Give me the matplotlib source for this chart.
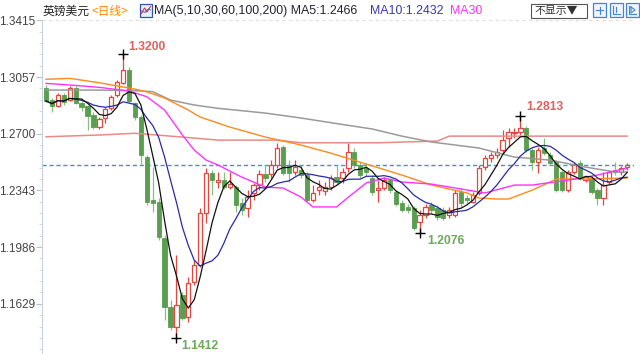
import numpy as np
import pandas as pd
import matplotlib
matplotlib.use("Agg")
import matplotlib.pyplot as plt
from matplotlib.patches import Rectangle
from matplotlib.lines import Line2D

# ---------------- data (GBP/USD daily) ----------------
opens = [1.2988, 1.2912, 1.2874, 1.2944, 1.2912, 1.2988, 1.2893, 1.2874, 1.2818, 1.2742,
         1.2799, 1.2862, 1.2944, 1.3019, 1.3101, 1.2893, 1.2805, 1.2553, 1.2282, 1.2270,
         1.2043, 1.1609, 1.1483, 1.1684, 1.1546, 1.1766, 1.1873, 1.2201, 1.2452, 1.2396,
         1.2408, 1.2364, 1.2364, 1.2264, 1.2232, 1.2327, 1.2377, 1.2446, 1.2446, 1.2503,
         1.2616, 1.2503, 1.2459, 1.2471, 1.2440, 1.2282, 1.2346, 1.2339, 1.2364, 1.2427,
         1.2421, 1.2484, 1.2585, 1.2503, 1.2484, 1.2421, 1.2346, 1.2358, 1.2408, 1.2333,
         1.2264, 1.2239, 1.2232, 1.2144, 1.2188, 1.2251, 1.2232, 1.2220, 1.2188, 1.2188,
         1.2333, 1.2295, 1.2270, 1.2327, 1.2490, 1.2547, 1.2566, 1.2597, 1.2673, 1.2704,
         1.2711, 1.2736, 1.2597, 1.2522, 1.2610, 1.2566, 1.2522, 1.2459, 1.2346, 1.2459,
         1.2515, 1.2408, 1.2421, 1.2346, 1.2295, 1.2396, 1.2471, 1.2459, 1.2490]
highs = [1.3007, 1.2925, 1.2956, 1.2956, 1.3000, 1.3000, 1.2906, 1.2881, 1.2837, 1.2805,
         1.2868, 1.2944, 1.3038, 1.3200, 1.3120, 1.2900, 1.2818, 1.2566, 1.2490, 1.2295,
         1.2062, 1.1653, 1.1936, 1.1703, 1.1798, 1.1905, 1.2232, 1.2484, 1.2471, 1.2459,
         1.2459, 1.2459, 1.2377, 1.2295, 1.2346, 1.2390, 1.2471, 1.2503, 1.2534, 1.2641,
         1.2629, 1.2534, 1.2534, 1.2503, 1.2459, 1.2377, 1.2408, 1.2396, 1.2440, 1.2503,
         1.2484, 1.2641, 1.2610, 1.2522, 1.2515, 1.2440, 1.2408, 1.2427, 1.2421, 1.2346,
         1.2282, 1.2257, 1.2245, 1.2220, 1.2257, 1.2270, 1.2251, 1.2239, 1.2239, 1.2346,
         1.2358, 1.2314, 1.2333, 1.2503, 1.2566, 1.2585, 1.2610, 1.2723, 1.2736, 1.2736,
         1.2813, 1.2749, 1.2610, 1.2616, 1.2673, 1.2585, 1.2534, 1.2471, 1.2471, 1.2522,
         1.2534, 1.2434, 1.2434, 1.2358, 1.2459, 1.2471, 1.2522, 1.2497, 1.2515]
lows = [1.2900, 1.2837, 1.2868, 1.2881, 1.2906, 1.2887, 1.2843, 1.2723, 1.2730, 1.2730,
        1.2767, 1.2849, 1.2931, 1.3013, 1.2893, 1.2786, 1.2503, 1.2251, 1.2207, 1.2030,
        1.1527, 1.1464, 1.1412, 1.1527, 1.1514, 1.1747, 1.1861, 1.2138, 1.2314, 1.2358,
        1.2352, 1.2352, 1.2207, 1.2188, 1.2176, 1.2282, 1.2346, 1.2396, 1.2421, 1.2484,
        1.2440, 1.2396, 1.2440, 1.2421, 1.2270, 1.2270, 1.2314, 1.2314, 1.2346, 1.2377,
        1.2390, 1.2459, 1.2484, 1.2421, 1.2434, 1.2314, 1.2270, 1.2346, 1.2327, 1.2245,
        1.2207, 1.2201, 1.2094, 1.2076, 1.2169, 1.2201, 1.2157, 1.2157, 1.2169, 1.2176,
        1.2239, 1.2264, 1.2264, 1.2314, 1.2471, 1.2522, 1.2547, 1.2578, 1.2616, 1.2673,
        1.2692, 1.2585, 1.2471, 1.2452, 1.2566, 1.2503, 1.2333, 1.2333, 1.2333, 1.2446,
        1.2408, 1.2396, 1.2320, 1.2251, 1.2251, 1.2383, 1.2440, 1.2440, 1.2471]
closes = [1.2906, 1.2874, 1.2944, 1.2900, 1.2988, 1.2893, 1.2868, 1.2812, 1.2742, 1.2793,
          1.2856, 1.2931, 1.3026, 1.3101, 1.2906, 1.2805, 1.2566, 1.2270, 1.2264, 1.2050,
          1.1609, 1.1483, 1.1621, 1.1539, 1.1760, 1.1873, 1.2201, 1.2452, 1.2408, 1.2408,
          1.2364, 1.2383, 1.2251, 1.2220, 1.2301, 1.2377, 1.2446, 1.2421, 1.2503, 1.2610,
          1.2452, 1.2452, 1.2490, 1.2440, 1.2282, 1.2327, 1.2364, 1.2364, 1.2421, 1.2396,
          1.2459, 1.2585, 1.2503, 1.2440, 1.2459, 1.2333, 1.2358, 1.2408, 1.2346, 1.2257,
          1.2220, 1.2220, 1.2106, 1.2188, 1.2239, 1.2220, 1.2176, 1.2169, 1.2220, 1.2327,
          1.2264, 1.2282, 1.2314, 1.2484, 1.2547, 1.2566, 1.2585, 1.2660, 1.2711, 1.2711,
          1.2736, 1.2597, 1.2522, 1.2597, 1.2578, 1.2515, 1.2346, 1.2346, 1.2459, 1.2503,
          1.2421, 1.2427, 1.2333, 1.2295, 1.2377, 1.2459, 1.2459, 1.2484, 1.2503]

# longer moving averages at selected bars
ma30_idx = [0, 4, 9, 14, 17, 20, 23, 25, 27, 29, 33, 37, 40, 43, 45, 49, 51, 54, 57, 60, 65, 71, 74, 79, 82, 88, 93, 98]
ma30_val = [1.3017, 1.3007, 1.2992, 1.2969, 1.2933, 1.2849, 1.2692, 1.2597, 1.2534, 1.2503,
            1.2427, 1.2364, 1.2358, 1.2301, 1.2239, 1.2239, 1.2301, 1.2390, 1.2421, 1.2396,
            1.2383, 1.2346, 1.2327, 1.2377, 1.2377, 1.2408, 1.2440, 1.2484]
ma60_idx = [0, 4, 9, 15, 17, 20, 24, 26, 31, 37, 43, 48, 54, 60, 65, 71, 73, 76, 78, 82, 85, 86, 91, 98]
ma60_val = [1.3043, 1.3049, 1.3021, 1.2981, 1.2964, 1.2925, 1.2849, 1.2805, 1.2742, 1.2679,
            1.2629, 1.2578, 1.2509, 1.2440, 1.2377, 1.2327, 1.2295, 1.2289, 1.2289, 1.2345,
            1.2396, 1.2415, 1.2415, 1.2421]
ma100_idx = [0, 9, 15, 18, 21, 25, 29, 32, 37, 43, 49, 55, 60, 65, 73, 79, 85, 91, 96, 98]
ma100_val = [1.2975, 1.2975, 1.2971, 1.2965, 1.2912, 1.2881, 1.2860, 1.2849, 1.2830, 1.2799,
             1.2764, 1.2730, 1.2685, 1.2648, 1.2610, 1.2553, 1.2534, 1.2490, 1.2459, 1.2459]
ma200_idx = [0, 9, 15, 23, 29, 39, 43, 56, 66, 68, 98]
ma200_val = [1.2681, 1.2692, 1.2703, 1.2679, 1.2660, 1.2660, 1.2643, 1.2643, 1.2654, 1.2685, 1.2685]

y_ticks = [1.1629, 1.1986, 1.2343, 1.2700, 1.3057, 1.3415]
title_name = "英镑美元"
title_period = "<日线>"
ma_label = "MA(5,10,30,60,100,200)"
ma5_label = "MA5:1.2466"
ma10_label = "MA10:1.2432"
ma30_label = "MA30"

# ---------------- figure ----------------
W, H = 640, 354
fig = plt.figure(figsize=(W / 100, H / 100), dpi=100)
fig.patch.set_facecolor("white")

def fx(px):
    return px / W

def fy(py):
    return 1 - py / H

ax_left, ax_right, ax_top, ax_bot = 42, 634, 20.2, 354
ax = fig.add_axes([fx(ax_left), fy(ax_bot), (ax_right - ax_left) / W, (ax_bot - ax_top) / H])
ax.set_facecolor("white")

n = len(closes)
x = np.arange(n)
o = np.array(opens); c = np.array(closes); h = np.array(highs); l = np.array(lows)
up = c >= o

RED = "#e5453f"
GREEN = "#5a9e50"
GREEN_WICK = "#86c07c"

# wicks
ax.vlines(x[up], l[up], h[up], color=RED, lw=0.9, zorder=2)
ax.vlines(x[~up], l[~up], h[~up], color=GREEN_WICK, lw=0.9, zorder=2)
# bodies
bw = 0.72
bot = np.minimum(o, c)
hgt = np.maximum(np.abs(c - o), 0.00025)
ax.bar(x[up], hgt[up], bottom=bot[up], width=bw, facecolor="white", edgecolor=RED, lw=0.9, zorder=3)
ax.bar(x[~up], hgt[~up], bottom=bot[~up], width=bw, facecolor=GREEN, edgecolor=GREEN, lw=0.6, zorder=3)

# moving averages
s = pd.Series(closes)
ma5 = s.rolling(5, min_periods=1).mean()
ma10 = s.rolling(10, min_periods=1).mean()
ax.plot(ma200_idx, ma200_val, color="#ea8a86", lw=1.1, zorder=4)
ax.plot(ma100_idx, ma100_val, color="#9a9a9a", lw=1.1, zorder=4)
ax.plot(ma60_idx, ma60_val, color="#ff8a1c", lw=1.0, zorder=4)
ax.plot(ma30_idx, ma30_val, color="#ff33ff", lw=1.0, zorder=4)
ax.plot(x, ma10, color="#2a2aa8", lw=0.9, zorder=5)
ax.plot(x, ma5, color="#111111", lw=0.9, zorder=5)

# last price dashed line
ax.axhline(closes[-1], color="#3d8fe6", lw=1.0, ls=(0, (3, 2)), zorder=1)
# top dashed grid line
ax.axhline(y_ticks[-1], color="#dddddd", lw=0.8, ls=(0, (3, 3)), zorder=1, clip_on=False)

# extreme markers and labels
hi_i = int(np.argmax(h[:40])); lo_i = int(np.argmin(l))
lo2_i = 40 + int(np.argmin(l[40:80])); hi2_i = 60 + int(np.argmax(h[60:]))
FONT = ["Liberation Sans", "Noto Sans CJK SC", "DejaVu Sans"]
for (i, val, dx, dy, col) in [(hi_i, h[hi_i], 5, 7, "#e06060"),
                              (lo_i, l[lo_i], 5, -8, "#6aaa5a"),
                              (lo2_i, l[lo2_i], 8, -8, "#6aaa5a"),
                              (hi2_i, h[hi2_i], 6, 9, "#e06060")]:
    ax.plot([i], [val], marker="+", color="black", ms=7, mew=1.0, zorder=6)
    ax.annotate(f"{val:.4f}", xy=(i, val), xytext=(dx, dy), textcoords="offset pixels",
                ha="left", va="center", color=col, fontsize=8.7, fontweight="bold",
                family=FONT, zorder=7)

# axes limits / scales
ax.set_xlim((ax_left - 46) / 5.93, (ax_right - 46) / 5.93)
ax.set_ylim(1.1313, 1.3415)
for sp in ["top", "right", "bottom"]:
    ax.spines[sp].set_visible(False)
ax.spines["left"].set_color("#c8d0dc")
ax.spines["left"].set_linewidth(0.8)
ax.set_xticks([])
ax.set_yticks(y_ticks)
ax.set_yticklabels([f"{v:.4f}" for v in y_ticks], family=FONT, fontsize=8.5, color="#444444")
minor = []
for k in range(len(y_ticks) - 1):
    step = (y_ticks[k + 1] - y_ticks[k]) / 5
    minor += [y_ticks[k] + step * j for j in range(1, 5)]
minor += [y_ticks[0] - step * j for j in range(1, 5)]
ax.set_yticks(minor, minor=True)
ax.tick_params(axis="y", which="major", length=4, width=0.8, color="#b8c4d4", pad=1)
ax.tick_params(axis="y", which="minor", length=2, width=0.6, color="#c8d0dc")

# ---------------- header ----------------
ty = fy(11)
fig.text(fx(43), ty, title_name, family=["Noto Sans CJK SC", "DejaVu Sans"], fontsize=8.5, color="#222222", va="center")
fig.text(fx(92), ty, title_period, family=["Noto Sans CJK SC", "DejaVu Sans"], fontsize=8.5, color="#ff8a00", va="center")
# small MA icon
fig.add_artist(Rectangle((fx(140), fy(16.5)), 12 / W, 12 / H, transform=fig.transFigure,
                         facecolor="#e8f0ff", edgecolor="#3355aa", lw=0.9))
fig.add_artist(Line2D([fx(141.5), fx(144.5), fx(147), fx(150.5)], [fy(13.5), fy(8), fy(12), fy(6.5)],
                      transform=fig.transFigure, color="#dd3333", lw=0.8))
fig.add_artist(Line2D([fx(141.5), fx(145), fx(148), fx(150.5)], [fy(11), fy(12.5), fy(9), fy(10)],
                      transform=fig.transFigure, color="#3355cc", lw=0.6))
fig.text(fx(154), ty, ma_label + " " + ma5_label, family=FONT, fontsize=8.9, color="#222233", va="center")
fig.text(fx(370), ty, ma10_label, family=FONT, fontsize=8.9, color="#3a38b0", va="center")
fig.text(fx(450), ty, ma30_label, family=FONT, fontsize=8.9, color="#ff33ff", va="center")

# "不显示" button
fig.add_artist(Rectangle((fx(531), fy(18)), 56 / W, 14 / H, transform=fig.transFigure,
                         facecolor="white", edgecolor="#555555", lw=0.8))
fig.text(fx(535), ty, "不显示▼", family=["Noto Sans CJK SC", "DejaVu Sans"], fontsize=7.8,
         color="#333333", va="center")
# toolbar icons
for x0 in [593, 610, 626]:
    fig.add_artist(Rectangle((fx(x0), fy(16.5)), 13 / W, 13 / H, transform=fig.transFigure,
                             facecolor="#eef5ff", edgecolor="#3d86d8", lw=0.9))
fig.add_artist(Line2D([fx(596), fx(603)], [fy(10), fy(10)], transform=fig.transFigure, color="#3d86d8", lw=0.8))
fig.add_artist(Line2D([fx(599.5), fx(599.5)], [fy(6.5), fy(13.5)], transform=fig.transFigure, color="#3d86d8", lw=0.8))
fig.add_artist(Line2D([fx(613), fx(613), fx(620)], [fy(6), fy(14), fy(14)], transform=fig.transFigure, color="#3d86d8", lw=0.8))
fig.add_artist(Line2D([fx(616), fx(616)], [fy(7), fy(12)], transform=fig.transFigure, color="#3d86d8", lw=0.8))
fig.add_artist(Line2D([fx(629), fx(629), fx(636)], [fy(6), fy(14), fy(14)], transform=fig.transFigure, color="#3d86d8", lw=0.8))
fig.add_artist(Line2D([fx(631), fx(635), fx(631), fx(631)], [fy(7), fy(10), fy(13), fy(7)], transform=fig.transFigure, color="#3d86d8", lw=0.8))

fig.savefig("out.png", dpi=100, facecolor="white")
